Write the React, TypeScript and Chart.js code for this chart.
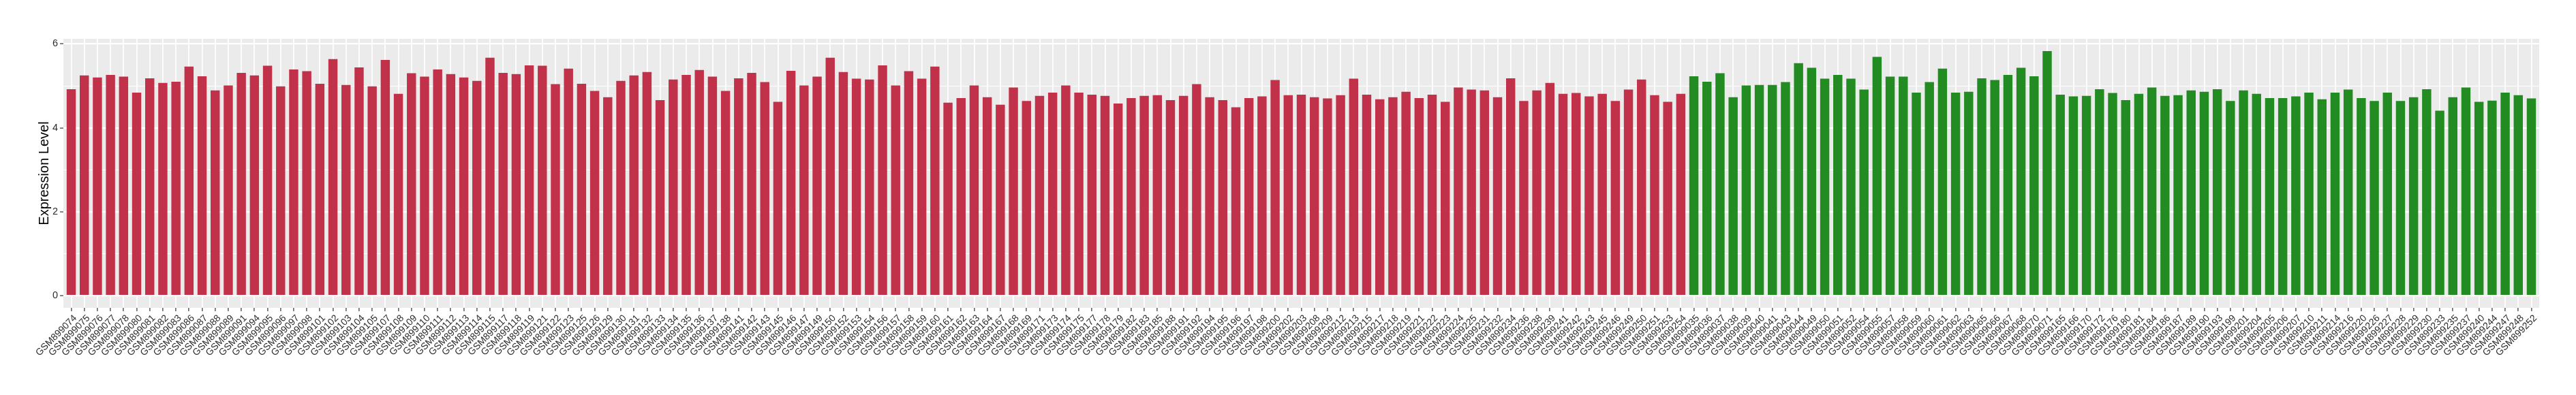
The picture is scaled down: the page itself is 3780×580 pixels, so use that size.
import React, { useEffect, useRef } from 'react';
import { Chart, registerables } from 'chart.js';

Chart.register(...registerables);

const tumorSamples = [
  'GSM899074','GSM899075','GSM899076','GSM899077','GSM899078','GSM899080','GSM899081','GSM899082','GSM899083','GSM899086',
  'GSM899087','GSM899088','GSM899089','GSM899091','GSM899094','GSM899095','GSM899096','GSM899097','GSM899098','GSM899101',
  'GSM899102','GSM899103','GSM899104','GSM899105','GSM899107','GSM899108','GSM899109','GSM899110','GSM899111','GSM899112',
  'GSM899113','GSM899114','GSM899115','GSM899117','GSM899118','GSM899119','GSM899121','GSM899122','GSM899123','GSM899125',
  'GSM899126','GSM899129','GSM899130','GSM899131','GSM899132','GSM899133','GSM899134','GSM899135','GSM899136','GSM899137',
  'GSM899138','GSM899141','GSM899142','GSM899143','GSM899145','GSM899146','GSM899147','GSM899149','GSM899150','GSM899152',
  'GSM899153','GSM899154','GSM899156','GSM899157','GSM899158','GSM899159','GSM899160','GSM899161','GSM899162','GSM899163',
  'GSM899164','GSM899167','GSM899168','GSM899169','GSM899171','GSM899173','GSM899174','GSM899175','GSM899177','GSM899178',
  'GSM899179','GSM899182','GSM899183','GSM899185','GSM899188','GSM899191','GSM899192','GSM899194','GSM899195','GSM899196',
  'GSM899197','GSM899198','GSM899200','GSM899202','GSM899203','GSM899208','GSM899209','GSM899212','GSM899213','GSM899215',
  'GSM899217','GSM899218','GSM899219','GSM899221','GSM899222','GSM899223','GSM899224','GSM899225','GSM899231','GSM899232',
  'GSM899234','GSM899236','GSM899238','GSM899239','GSM899241','GSM899242','GSM899243','GSM899245','GSM899246','GSM899249',
  'GSM899250','GSM899251','GSM899253','GSM899254',
];

const tumorValues = [
  4.92, 5.25, 5.20, 5.26, 5.22, 4.84, 5.18, 5.07, 5.10, 5.46,
  5.23, 4.89, 5.01, 5.31, 5.25, 5.48, 4.99, 5.39, 5.35, 5.05,
  5.64, 5.02, 5.44, 4.99, 5.62, 4.81, 5.30, 5.22, 5.39, 5.28,
  5.20, 5.12, 5.67, 5.31, 5.28, 5.49, 5.48, 5.04, 5.41, 5.05,
  4.88, 4.73, 5.12, 5.25, 5.33, 4.66, 5.15, 5.26, 5.38, 5.22,
  4.88, 5.18, 5.31, 5.09, 4.62, 5.36, 5.01, 5.22, 5.67, 5.33,
  5.17, 5.15, 5.49, 5.01, 5.35, 5.17, 5.46, 4.60, 4.71, 5.01,
  4.73, 4.55, 4.96, 4.64, 4.76, 4.84, 5.01, 4.84, 4.79, 4.76,
  4.58, 4.71, 4.76, 4.78, 4.66, 4.76, 5.04, 4.73, 4.66, 4.49,
  4.71, 4.75, 5.14, 4.78, 4.79, 4.73, 4.70, 4.78, 5.17, 4.79,
  4.68, 4.73, 4.86, 4.71, 4.79, 4.62, 4.96, 4.91, 4.89, 4.73,
  5.18, 4.64, 4.89, 5.07, 4.81, 4.83, 4.75, 4.81, 4.64, 4.91,
  5.15, 4.78, 4.62, 4.81,
];

const normalSamples = [
  'GSM899035','GSM899036','GSM899037','GSM899038','GSM899039','GSM899040','GSM899041','GSM899043','GSM899044','GSM899049',
  'GSM899050','GSM899051','GSM899052','GSM899054','GSM899055','GSM899057','GSM899058','GSM899059','GSM899060','GSM899061',
  'GSM899062','GSM899063','GSM899065','GSM899066','GSM899067','GSM899068','GSM899070','GSM899071','GSM899165','GSM899166',
  'GSM899170','GSM899172','GSM899176','GSM899180','GSM899181','GSM899184','GSM899186','GSM899187','GSM899189','GSM899190',
  'GSM899193','GSM899199','GSM899201','GSM899204','GSM899205','GSM899206','GSM899207','GSM899210','GSM899211','GSM899214',
  'GSM899216','GSM899220','GSM899226','GSM899227','GSM899228','GSM899229','GSM899230','GSM899233','GSM899235','GSM899237',
  'GSM899240','GSM899244','GSM899247','GSM899248','GSM899252',
];

const normalValues = [
  5.23, 5.10, 5.30, 4.73, 5.01, 5.02, 5.02, 5.09, 5.54, 5.43,
  5.17, 5.26, 5.17, 4.91, 5.69, 5.22, 5.22, 4.84, 5.09, 5.41,
  4.84, 4.86, 5.18, 5.14, 5.26, 5.43, 5.23, 5.83, 4.79, 4.75,
  4.76, 4.92, 4.83, 4.66, 4.81, 4.96, 4.76, 4.78, 4.89, 4.86,
  4.92, 4.64, 4.89, 4.81, 4.71, 4.71, 4.75, 4.84, 4.68, 4.84,
  4.91, 4.71, 4.64, 4.84, 4.64, 4.73, 4.92, 4.41, 4.73, 4.96,
  4.62, 4.65, 4.84, 4.78, 4.70,
];

const yGridTicks = [0, 1, 2, 3, 4, 5, 6];
const yLabelTicks = [0, 2, 4, 6];

const TUMOR_COLOR = '#C2314A';
const NORMAL_COLOR = '#228B22';

const panelBackground = {
  id: 'panelBackground',
  beforeDraw(chart: any) {
    const { ctx, chartArea: a } = chart;
    if (!a) return;
    ctx.save();
    ctx.fillStyle = '#EBEBEB';
    ctx.fillRect(a.left, a.top, a.right - a.left, a.bottom - a.top);
    ctx.restore();
  },
};

export default function App() {
  const ref = useRef<HTMLCanvasElement | null>(null);

  useEffect(() => {
    if (!ref.current) return;
    const labels = [...tumorSamples, ...normalSamples];
    const allValues = [...tumorValues, ...normalValues];
    const maxV = Math.max(...allValues);
    const tumorData = tumorValues.map((v, i) => ({ x: i, y: v }));
    const normalData = normalValues.map((v, i) => ({ x: i + tumorValues.length, y: v }));
    const font = 'Liberation Sans, Arial, Helvetica, sans-serif';
    Chart.defaults.font.family = font;

    const chart = new Chart(ref.current, {
      type: 'bar',
      data: {
        datasets: [
          {
            label: 'Tumor',
            data: tumorData as any,
            backgroundColor: TUMOR_COLOR,
            borderWidth: 0,
            barPercentage: 0.7,
            categoryPercentage: 1,
            grouped: false,
          },
          {
            label: 'Normal',
            data: normalData as any,
            backgroundColor: NORMAL_COLOR,
            borderWidth: 0,
            barPercentage: 0.7,
            categoryPercentage: 1,
            grouped: false,
          },
        ],
      },
      options: {
        responsive: false,
        animation: false,
        devicePixelRatio: 1,
        layout: { padding: { left: 0, right: 54, top: 57, bottom: 0 } },
        plugins: {
          legend: { display: false },
          tooltip: { enabled: false },
        },
        scales: {
          x: {
            type: 'linear',
            min: -0.6,
            max: labels.length - 1 + 0.6,
            offset: false,
            afterBuildTicks: (s: any) => {
              s.ticks = labels.map((_, i) => ({ value: i }));
            },
            afterFit: (s: any) => {
              s.height = 128;
            },
            ticks: {
              autoSkip: false,
              minRotation: 45,
              maxRotation: 45,
              padding: 2,
              labelOffset: 6,
              color: '#2B2B2B',
              font: { size: 14, family: font },
              callback: (v: any) => labels[v] ?? '',
            },
            grid: {
              color: '#FFFFFF',
              lineWidth: 1.8,
              offset: false,
              drawTicks: true,
              tickLength: 5,
              tickColor: '#333333',
              tickWidth: 1.2,
            },
            border: { display: false },
          },
          y: {
            type: 'linear',
            min: -0.05 * maxV,
            max: 1.05 * maxV,
            afterBuildTicks: (s: any) => {
              s.ticks = yGridTicks.map((v) => ({ value: v }));
            },
            afterFit: (s: any) => {
              s.width = 93;
            },
            ticks: {
              color: '#2B2B2B',
              padding: 3,
              font: { size: 14.5, family: font },
              callback: (v: any) => (yLabelTicks.includes(v) ? String(v) : ''),
            },
            grid: {
              color: '#FFFFFF',
              lineWidth: (c: any) => (yLabelTicks.includes(c.tick?.value) ? 2.2 : 1.1),
              drawTicks: true,
              tickLength: 5,
              tickWidth: 1.2,
              tickColor: (c: any) => (yLabelTicks.includes(c.tick?.value) ? '#333333' : 'rgba(0,0,0,0)'),
            },
            border: { display: false },
            title: {
              display: true,
              text: 'Expression Level',
              color: '#000000',
              font: { size: 20, family: font },
              padding: { top: 53, bottom: 0 },
            },
          },
        },
      } as any,
      plugins: [panelBackground],
    });

    return () => chart.destroy();
  }, []);

  return (
    <div style={{ position: 'fixed', left: 0, top: 0, width: 3780, height: 580, background: '#FFFFFF' }}>
      <canvas ref={ref} width={3780} height={580} style={{ display: 'block', width: 3780, height: 580 }} />
    </div>
  );
}
